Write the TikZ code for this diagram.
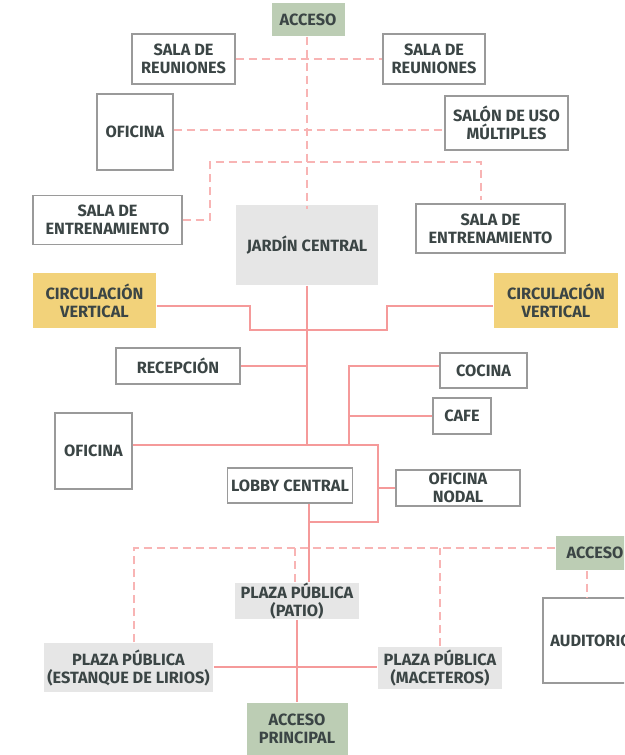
\documentclass[tikz,border=0pt]{standalone}
\usepackage{fontspec}
\setmainfont{Fira Sans}
\usepackage{tikz}

\definecolor{txtgray}{HTML}{3B4545}
\definecolor{boxline}{HTML}{9A9A9A}
\definecolor{linkred}{HTML}{F59A9A}
\definecolor{dashred}{HTML}{F8B4B4}
\definecolor{accgreen}{HTML}{BCCDB4}
\definecolor{jardgray}{HTML}{E6E6E6}
\definecolor{circyellow}{HTML}{F2D27A}

\tikzset{
  room/.style={rectangle, draw=boxline, line width=1.1pt, fill=white, text=txtgray, align=center, font=\bfseries\fontsize{16.3}{18}\selectfont, inner sep=0pt},
  access/.style={room, draw=none, fill=accgreen},
  plaza/.style={room, draw=none, fill=jardgray},
  stair/.style={room, draw=none, fill=circyellow},
  link/.style={draw=linkred, line width=2pt},
  soft/.style={draw=dashred, line width=1.6pt, dash pattern=on 8pt off 5pt}
}

\begin{document}
\begin{tikzpicture}[x=1pt, y=-1pt]
				\useasboundingbox (0,0) rectangle (624,755);
				\clip (0,0) rectangle (624,755);

				% upper wing
				\node[access, minimum width=73, minimum height=33] (accA) at (308,19.5){ACCESO};
				\node[room, minimum width=103, minimum height=50] (salaL) at (183.5,59){SALA DE\\REUNIONES};
				\node[room, minimum width=102, minimum height=50] (salaR) at (434,59){SALA DE\\REUNIONES};
				\node[room, minimum width=76, minimum height=76] (ofiA) at (135,132){OFICINA};
				\node[room, minimum width=123, minimum height=54] (salon) at (506.5,123){SALÓN DE USO\\MÚLTIPLES};
				\node[room, minimum width=149, minimum height=49] (entL) at (107.5,220){SALA DE\\ENTRENAMIENTO};
				\node[room, minimum width=149, minimum height=49] (entR) at (490.5,228.5){SALA DE\\ENTRENAMIENTO};
				\node[plaza, minimum width=142, minimum height=80] (jardin) at (307,245){JARDÍN CENTRAL};

				% core
				\node[stair, minimum width=123, minimum height=55] (circL) at (94.5,300.5){CIRCULACIÓN\\VERTICAL};
				\node[stair, minimum width=124, minimum height=55] (circR) at (556,300.5){CIRCULACIÓN\\VERTICAL};
				\node[room, minimum width=124, minimum height=36] (recep) at (178,366){RECEPCIÓN};
				\node[room, minimum width=87, minimum height=35] (cocina) at (483.5,370.5){COCINA};
				\node[room, minimum width=58, minimum height=36] (cafe) at (462,416){CAFE};
				\node[room, minimum width=77, minimum height=76] (ofiB) at (93.5,451){OFICINA};
				\node[room, minimum width=125, minimum height=35] (lobby) at (290,485.5){LOBBY CENTRAL};
				\node[room, minimum width=124, minimum height=36] (nodal) at (458,488){OFICINA\\NODAL};

				% lower wing
				\node[access, minimum width=78, minimum height=34] (accR) at (595,553){ACCESO};
				\node[room, minimum width=96, minimum height=85] (audit) at (591,640.5){AUDITORIO};
				\node[plaza, minimum width=124, minimum height=36] (patio) at (297,601){PLAZA PÚBLICA\\(PATIO)};
				\node[plaza, minimum width=169, minimum height=49] (lirios) at (128.5,667.5){PLAZA PÚBLICA\\(ESTANQUE DE LIRIOS)};
				\node[plaza, minimum width=124, minimum height=42] (macet) at (440,668){PLAZA PÚBLICA\\(MACETEROS)};
				\node[access, minimum width=101, minimum height=52] (accP) at (297,729){ACCESO\\PRINCIPAL};

				\coordinate (spine) at (307,445);
				\coordinate (cjL) at (250,306);
				\coordinate (cjR) at (387,306);
				\coordinate (kTop) at (349,366);
				\coordinate (kBot) at (349,445);
				\coordinate (nTop) at (378,445);
				\coordinate (lobSp) at (309,522);
				\coordinate (brL) at (210,162);
				\coordinate (brR) at (481,200);
				\coordinate (dL) at (134,548);
				\coordinate (dM) at (295,548);
				\coordinate (dA) at (587,570);
				\coordinate (plz) at (297,667);

				% dashed links
				\draw[soft] (accA.south -| jardin.north) -- ([yshift=-5pt]jardin.north);
				\draw[soft] (salaL) -- (salaR);
				\draw[soft] (ofiA.east |- 0,130) -- (salon.west |- 0,130);
				\draw[soft] (entL.east) -| (brL) -| (brR);
				\draw[soft] (lirios.north -| dL) -- (dL) -- (accR.west |- dL);
				\draw[soft] (dM) -- (patio.north -| dM);
				\draw[soft] (macet.north) -- (macet.north |- dL);
				\draw[soft] (accR.south -| dA) -- (audit.north -| dA);

				% solid links
				\draw[link] (jardin.south) -- (spine);
				\draw[link] (circL.east |- cjL) -- (cjL) -- (cjL |- 0,330) -- (cjR |- 0,330) -- (cjR) -- (circR.west |- cjR);
				\draw[link] (recep.east |- kTop) -- (kTop -| spine);
				\draw[link] (cocina.west |- kTop) -- (kTop) -- (kBot);
				\draw[link] (cafe.west) -- (cafe.west -| kTop);
				\draw[link] (ofiB.east |- spine) -- (nTop) -- (nTop |- lobSp) -- (lobSp);
				\draw[link] (nodal.west) -- (nodal.west -| nTop);
				\draw[link] (lobby.south -| lobSp) -- (patio.north -| lobSp);
				\draw[link] (patio.south) -- (plz) -- (accP.north);
				\draw[link] (lirios.east |- plz) -- (plz) -- (macet.west |- plz);
\end{tikzpicture}
\end{document}
